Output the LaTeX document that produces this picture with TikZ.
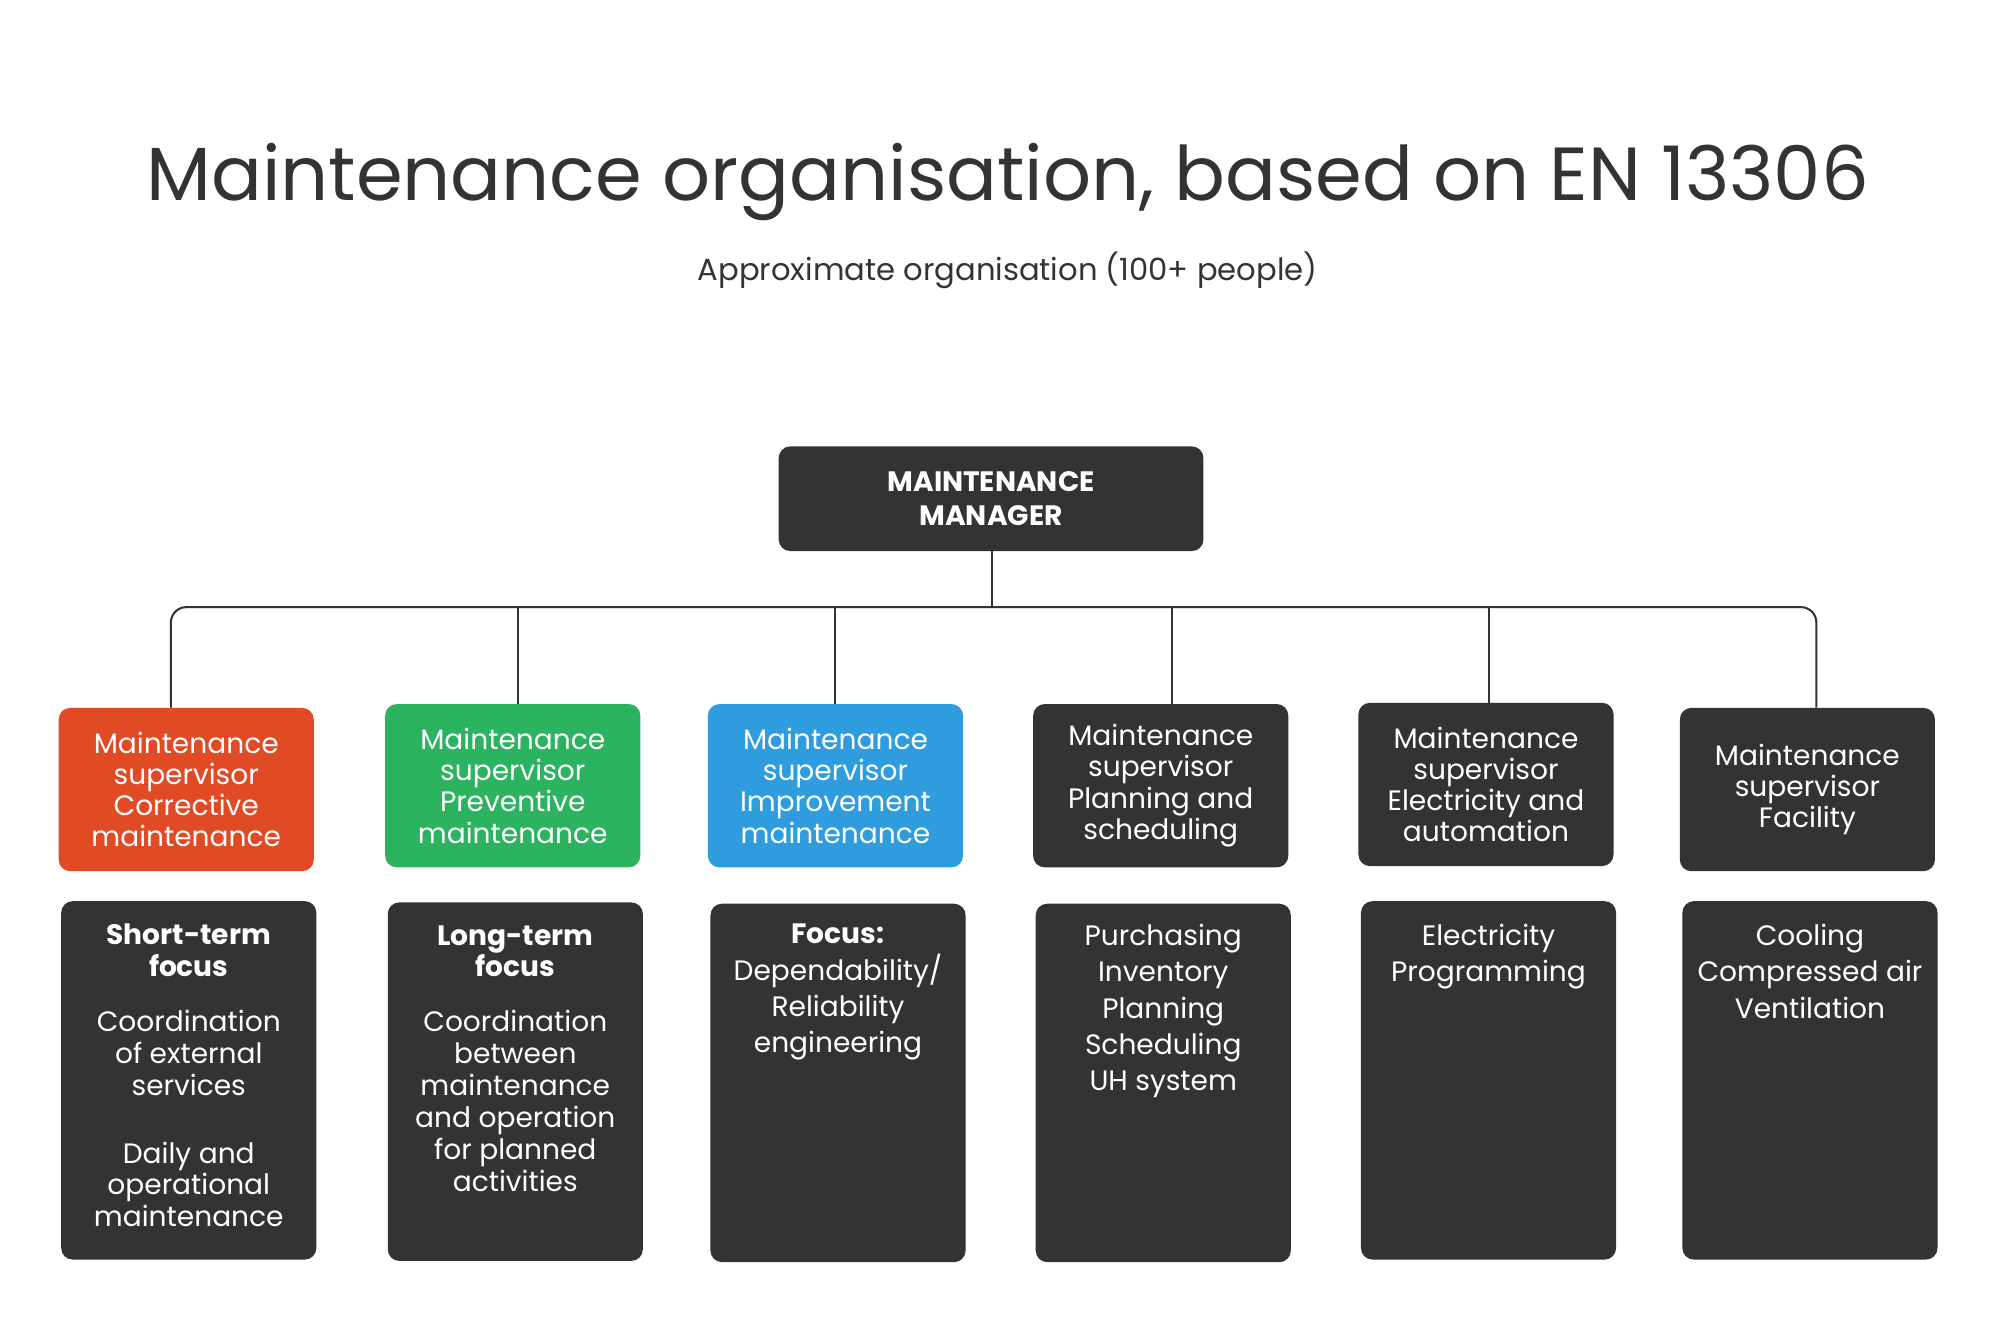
\documentclass[tikz,border=0pt]{standalone}
\usepackage{fontspec}
\setmainfont{Poppins}
\definecolor{dk}{HTML}{333333}
\definecolor{rd}{HTML}{E04A24}
\definecolor{gr}{HTML}{2BB360}
\definecolor{bl}{HTML}{2F9DDD}
\begin{document}
\begin{tikzpicture}[x=1pt,y=-1pt,
 sup/.style={rounded corners=9pt,minimum width=200pt,minimum height=128pt,text=white,align=center,font=\fontsize{22}{24.5}\selectfont,inner sep=0pt},
 low/.style={rounded corners=9pt,fill=dk,minimum width=200pt,minimum height=281pt},
 lt/.style={anchor=north,text=white,align=center,font=\fontsize{22}{25}\selectfont,inner sep=0pt},
 ln/.style={draw=dk,line width=1.6pt}]
\useasboundingbox (0,0) rectangle (1568,1045);
\node[font=\fontsize{59}{66}\selectfont,text=dk] (title) at (790,143) {Maintenance organisation, based on EN 13306};
\node[font=\fontsize{24}{28}\selectfont,text=dk] (sub) at (790,212) {Approximate organisation (100+ people)};
\node[fill=dk,rounded corners=9pt,minimum width=333pt,minimum height=82pt,text=white,align=center,font=\bfseries\fontsize{22}{27}\selectfont] (mgr) at (777,391) {MAINTENANCE\\MANAGER};
\node[sup,fill=rd] (s1) at (146,619) {Maintenance\\supervisor\\Corrective\\maintenance};
\node[sup,fill=gr] (s2) at (402,616) {Maintenance\\supervisor\\Preventive\\maintenance};
\node[sup,fill=bl] (s3) at (655,616) {Maintenance\\supervisor\\Improvement\\maintenance};
\node[sup,fill=dk] (s4) at (910,616) {Maintenance\\supervisor\\Planning and\\scheduling};
\node[sup,fill=dk] (s5) at (1165,615) {Maintenance\\supervisor\\Electricity and\\automation};
\node[sup,fill=dk] (s6) at (1417,619) {Maintenance\\supervisor\\Facility};
\coordinate (hl) at (134,476); \coordinate (hr) at (1424,476);
\coordinate (hm) at (778,476);
\draw[ln] (mgr.south -| hm) -- (hm);
\draw[ln,rounded corners=12pt] (s1.north -| hl) -- (hl) -- (hr) -- (s6.north -| hr);
\foreach \s/\x in {s2/406,s3/655,s4/919,s5/1167}{\draw[ln] (\s.north -| \x,0) -- (\x,476);}
\node[low] (b1) at (148,847) {};
\node[low] (b2) at (404,848) {};
\node[low] (b3) at (657,849) {};
\node[low] (b4) at (912,849) {};
\node[low] (b5) at (1167,847) {};
\node[low] (b6) at (1419,847) {};
\node[lt] (t1) at ([yshift=-18pt]b1.north) {\textbf{Short-term}\\\textbf{focus}\\[18pt]Coordination\\of external\\services\\[28pt]Daily and\\operational\\maintenance};
\node[lt] (t2) at ([yshift=-18pt]b2.north) {\textbf{Long-term}\\\textbf{focus}\\[18pt]Coordination\\between\\maintenance\\and operation\\for planned\\activities};
\node[lt,font=\fontsize{22}{28.5}\selectfont] (t3) at ([yshift=-16pt]b3.north) {\textbf{Focus:}\\Dependability/\\Reliability\\engineering};
\node[lt,font=\fontsize{22}{28.5}\selectfont] (t4) at ([yshift=-16pt]b4.north) {Purchasing\\Inventory\\Planning\\Scheduling\\UH system};
\node[lt,font=\fontsize{22}{28.5}\selectfont] (t5) at ([yshift=-18pt]b5.north) {Electricity\\Programming};
\node[lt,font=\fontsize{22}{28.5}\selectfont] (t6) at ([yshift=-18pt]b6.north) {Cooling\\Compressed air\\Ventilation};
\end{tikzpicture}
\end{document}
